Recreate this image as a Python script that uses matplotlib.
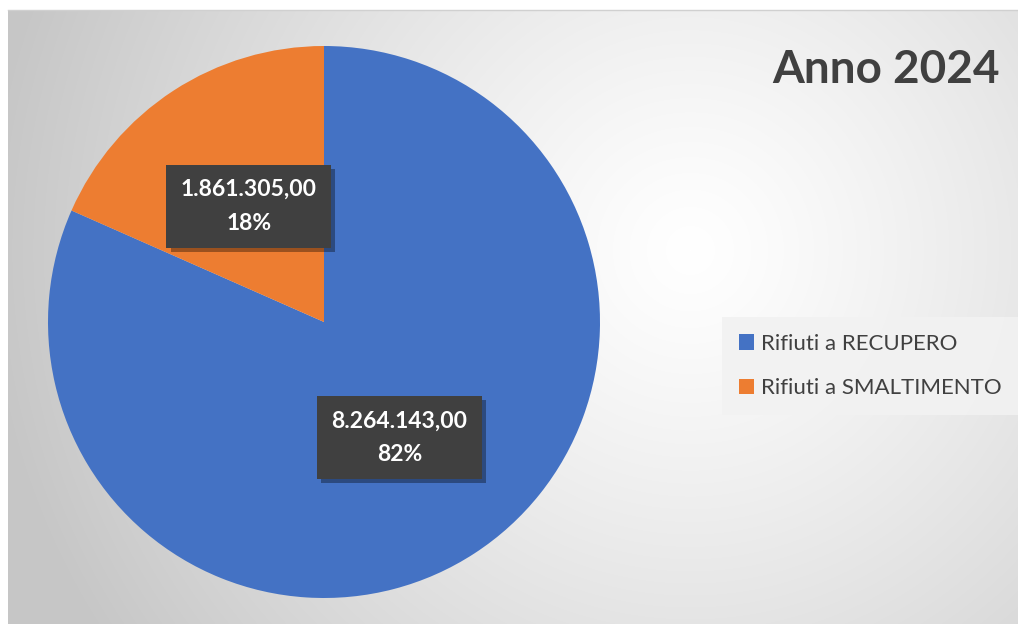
import matplotlib.pyplot as plt
import matplotlib.patheffects as pe
import numpy as np

# dati
categorie = ["Rifiuti a RECUPERO", "Rifiuti a SMALTIMENTO"]
valori = [8264143.00, 1861305.00]
colori = ["#4472C4", "#ED7D31"]
titolo = "Anno 2024"

plt.rcParams['font.family'] = ['Lato', 'DejaVu Sans']

W, H = 1018, 624
fig = plt.figure(figsize=(W / 100, H / 100), dpi=100, facecolor='white')

# sfondo con gradiente radiale
bg = fig.add_axes([8 / W, 0, 1 - 8 / W, (H - 10) / H])
xx, yy = np.meshgrid(np.arange(8, W), np.arange(10, H))
d = np.hypot(xx - 690, yy - 250)
t = np.clip(d / 700, 0, 1) ** 1.2
g = 1 - 0.22 * t
bg.imshow(np.dstack([g, g, g]), aspect='auto', extent=[0, 1, 0, 1], origin='upper')
bg.axis('off')
fig.add_artist(plt.Line2D([8 / W, 1], [1 - 10 / H, 1 - 10 / H], color='#d0d0d0', lw=1))

# torta
R = 276
cx, cy = 324, 322
ax = fig.add_axes([(cx - R) / W, (H - cy - R) / H, 2 * R / W, 2 * R / H])
ax.set_facecolor('none')


def fmt_it(v):
    s = f"{v:,.2f}"
    return s.replace(",", "X").replace(".", ",").replace("X", ".")


it = iter(valori)


def etichetta(pct):
    v = next(it)
    return f"{fmt_it(v)}\n{pct:.0f}%"


wedges, texts, autotexts = ax.pie(valori, colors=colori, startangle=90, counterclock=False,
                                  autopct=etichetta, pctdistance=0.5,
                                  wedgeprops=dict(linewidth=0))
for a in autotexts:
    a.set_color('white')
    a.set_fontsize(16.5)
    a.set_fontweight('bold')
    a.set_linespacing(1.75)
    a.set_bbox(dict(boxstyle='square,pad=0.62', facecolor='#404040', edgecolor='none'))
    a.get_bbox_patch().set_path_effects([pe.withSimplePatchShadow(offset=(3, -3), shadow_rgbFace='black', alpha=0.35)])
ax.set_xlim(-1, 1)
ax.set_ylim(-1, 1)
ax.set_aspect('auto')

# titolo
fig.text(1000 / W, 1 - 70 / H, titolo, ha='right', va='center', fontsize=33,
         fontweight='bold', color='#404040')

# legenda
leg = fig.legend(wedges, categorie, loc='center left', bbox_to_anchor=(722 / W, 1 - 366 / H),
                 frameon=True, fancybox=False, fontsize=16, handlelength=0.7, handleheight=0.7,
                 handletextpad=0.3, labelspacing=1.1, borderpad=0.75, borderaxespad=0,
                 labelcolor='#404040')
leg.get_frame().set_facecolor('#f2f2f2')
leg.get_frame().set_edgecolor('none')
leg.get_frame().set_alpha(0.9)

fig.savefig('out.png', dpi=100)
